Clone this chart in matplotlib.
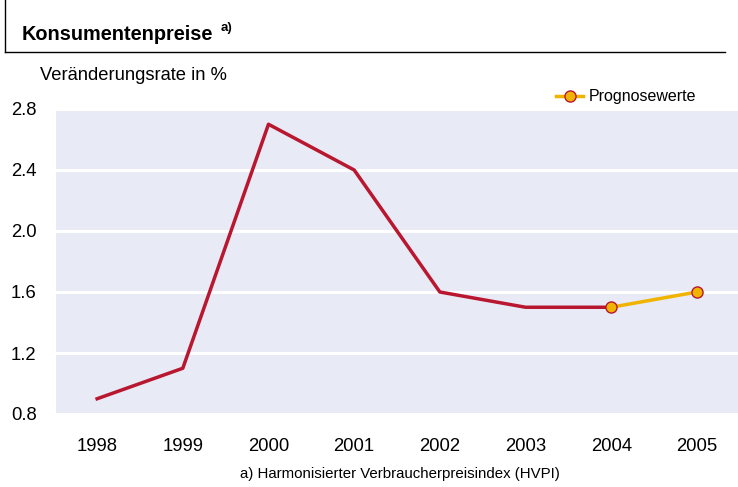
import matplotlib.pyplot as plt
from matplotlib.lines import Line2D

plt.rcParams['font.family'] = ['Liberation Sans', 'DejaVu Sans']

jahre = ['1998', '1999', '2000', '2001', '2002', '2003', '2004', '2005']
werte = [0.9, 1.1, 2.7, 2.4, 1.6, 1.5, 1.5, 1.6]
prognose_ab = 6  # 2004 und 2005 sind Prognosewerte
y_ticks = [0.8, 1.2, 1.6, 2.0, 2.4, 2.8]

rot = '#B8172F'
gelb = '#F0B400'
hintergrund = '#E8EAF5'

fig = plt.figure(figsize=(7.38, 4.87), dpi=100)
ax = fig.add_axes([56 / 738, 73 / 487, 682 / 738, 305 / 487])
ax.set_facecolor(hintergrund)

x = list(range(len(jahre)))
ax.plot(x[:prognose_ab + 1], werte[:prognose_ab + 1], color=rot, lw=2.5, zorder=3)
ax.plot(x[prognose_ab:], werte[prognose_ab:], color=gelb, lw=2.5, zorder=3)
ax.plot(x[prognose_ab:], werte[prognose_ab:], ls='none', marker='o', ms=8,
        mfc=gelb, mec=rot, mew=1, zorder=4)

ax.set_xlim(-0.48, 7.48)
ax.set_ylim(0.8, 2.8)
ax.set_yticks(y_ticks)
ax.set_yticklabels([f'{v:.1f}' for v in y_ticks])
ax.set_xticks(x)
ax.set_xticklabels(jahre)
ax.grid(axis='y', color='white', lw=2.2)
ax.set_axisbelow(True)
for s in ax.spines.values():
    s.set_visible(False)
ax.tick_params(length=0, labelsize=13.3)
ax.tick_params(axis='x', pad=17)
ax.tick_params(axis='y', pad=14)

# Legende
handle = Line2D([0], [0], color=gelb, lw=2.5, marker='o', ms=8, mfc=gelb, mec=rot, mew=1)
fig.legend([handle], ['Prognosewerte'], loc='center left', bbox_to_anchor=(556 / 738, 1 - 97 / 487),
           frameon=False, fontsize=11.5, handlelength=1.7, handletextpad=0.35, borderaxespad=0,
           borderpad=0)

# Titel und Rahmenlinien
fig.text(22 / 738, 1 - 34 / 487, 'Konsumentenpreise', fontsize=14.3, fontweight='bold', va='center')
fig.text(221 / 738, 1 - 28 / 487, 'a)', fontsize=9.5, fontweight='bold', va='center')
fig.add_artist(Line2D([5 / 738, 5 / 738], [1, 1 - 52 / 487], color='black', lw=1))
fig.add_artist(Line2D([5 / 738, 725 / 738], [1 - 52 / 487, 1 - 52 / 487], color='black', lw=1))

fig.text(40 / 738, 1 - 76 / 487, 'Veränderungsrate in %', fontsize=13.2, va='center')
fig.text(400 / 738, 1 - 474 / 487, 'a) Harmonisierter Verbraucherpreisindex (HVPI)',
         fontsize=10.8, ha='center', va='center')

fig.savefig('out.png', dpi=100)
